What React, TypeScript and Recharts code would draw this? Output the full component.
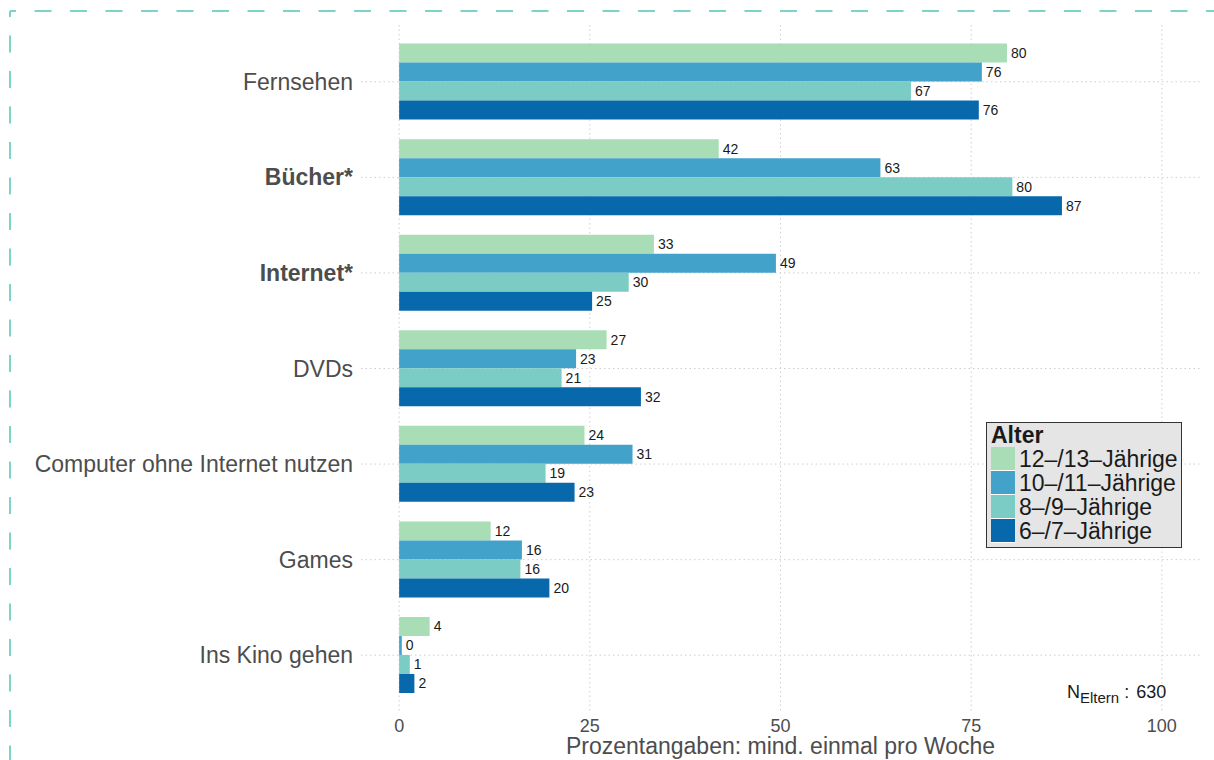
import React from 'react';
import { BarChart, Bar, XAxis, YAxis, CartesianGrid, LabelList, Legend } from 'recharts';

const categories = ['Fernsehen', 'Bücher*', 'Internet*', 'DVDs', 'Computer ohne Internet nutzen', 'Games', 'Ins Kino gehen'];
const age12_13 = [79.7, 41.9, 33.4, 27.2, 24.3, 12.0, 4.0];
const age10_11 = [76.4, 63.1, 49.4, 23.2, 30.6, 16.1, 0.35];
const age8_9 = [67.1, 80.4, 30.1, 21.3, 19.2, 15.9, 1.4];
const age6_7 = [76.0, 86.9, 25.3, 31.7, 23.0, 19.7, 2.0];
const boldCategories = ['Bücher*', 'Internet*'];
const xTicks = [0, 25, 50, 75, 100];
const seriesKeys = ['a12', 'a10', 'a8', 'a6'];
const seriesNames = ['12–/13–Jährige', '10–/11–Jährige', '8–/9–Jährige', '6–/7–Jährige'];
const seriesColors = ['#a8ddb5', '#43a2ca', '#7bccc4', '#0868ac'];
const legendTitle = 'Alter';
const xLabel = 'Prozentangaben: mind. einmal pro Woche';
const sampleSize = 630;

const data = categories.map((name, i) => ({
  name,
  a12: age12_13[i],
  a10: age10_11[i],
  a8: age8_9[i],
  a6: age6_7[i],
}));

const FONT = '"Liberation Sans", Arial, Helvetica, sans-serif';

const YTick = (props: any) => {
  const { x, y, payload } = props;
  const bold = boldCategories.includes(payload.value);
  return (
    <text x={x} y={y} dy="0.35em" textAnchor="end" fontSize={23} fontFamily={FONT}
      fill="#4d4d4d" fontWeight={bold ? 'bold' : 'normal'}>
      {payload.value}
    </text>
  );
};

const XTick = (props: any) => {
  const { x, y, payload } = props;
  return (
    <text x={x} y={y} dy="0.71em" textAnchor="middle" fontSize={18} fontFamily={FONT} fill="#4d4d4d">
      {payload.value}
    </text>
  );
};

const renderLegend = () => (
  <div style={{
    width: 196, height: 126, boxSizing: 'border-box', background: '#e5e5e5',
    border: '1.3px solid #333', fontFamily: FONT, padding: '0 0 0 4px', color: '#1a1a1a',
  }}>
    <div style={{ fontWeight: 'bold', fontSize: 23, lineHeight: '24px' }}>{legendTitle}</div>
    {seriesNames.map((n, i) => (
      <div key={n} style={{ display: 'flex', alignItems: 'flex-start', height: 24 }}>
        <div style={{ width: 24, height: 23, background: seriesColors[i], marginRight: 4, borderBottom: '1px solid #fff', flexShrink: 0 }} />
        <span style={{ fontSize: 23, lineHeight: '24px', whiteSpace: 'nowrap' }}>{n}</span>
      </div>
    ))}
  </div>
);

export default function App() {
  return (
    <div style={{ position: 'absolute', left: 0, top: 0, width: 1214, height: 760, background: '#fff' }}>
      <BarChart
        width={1214}
        height={760}
        data={data}
        layout="vertical"
        margin={{ top: 25, right: 14, bottom: 8, left: 11 }}
        barCategoryGap="10%"
        barGap={0}
      >
        <CartesianGrid stroke="#cfcfcf" strokeDasharray="1.5 3" syncWithTicks />
        <XAxis
          type="number"
          domain={[-5, 105]}
          ticks={xTicks}
          allowDataOverflow
          axisLine={false}
          tickLine={false}
          tickSize={0}
          tickMargin={7}
          height={40}
          tick={<XTick />}
          label={{ value: xLabel, position: 'insideBottom', offset: -2, fontSize: 23, fill: '#4d4d4d', fontFamily: FONT }}
        />
        <YAxis
          type="category"
          dataKey="name"
          width={350}
          axisLine={false}
          tickLine={false}
          tickSize={0}
          tickMargin={8}
          tick={<YTick />}
          interval={0}
          padding={{ top: 9, bottom: 9 }}
        />
        <Legend
          content={renderLegend}
          layout="vertical"
          align="center"
          verticalAlign="middle"
          wrapperStyle={{ position: 'absolute', left: 986, top: 422, width: 196, height: 126 }}
        />
        {seriesKeys.map((k, i) => (
          <Bar key={k} dataKey={k} name={seriesNames[i]} fill={seriesColors[i]} isAnimationActive={false}>
            <LabelList
              dataKey={k}
              position="right"
              offset={4}
              fontSize={14}
              fontFamily={FONT}
              fill="#1a1a1a"
              formatter={(v: any) => Math.round(Number(v))}
            />
          </Bar>
        ))}
      </BarChart>
      <svg width={1214} height={760} style={{ position: 'absolute', left: 0, top: 0, pointerEvents: 'none' }}>
        <line x1={10} y1={11} x2={1214} y2={11} stroke="#7dd3c5" strokeWidth={2} strokeDasharray="17 18.5" strokeDashoffset={11} />
        <line x1={10} y1={11} x2={10} y2={760} stroke="#7dd3c5" strokeWidth={2} strokeDasharray="17 18.5" strokeDashoffset={11} />
        <text x={1067} y={698} fontSize={18} fontFamily={FONT} fill="#1a1a1a">
          N
          <tspan fontSize={15} dy={5}>Eltern</tspan>
          <tspan fontSize={18} dy={-5} dx={5}>:</tspan>
          <tspan fontSize={18} dx={7}>{`${sampleSize}`}</tspan>
        </text>
      </svg>
    </div>
  );
}
